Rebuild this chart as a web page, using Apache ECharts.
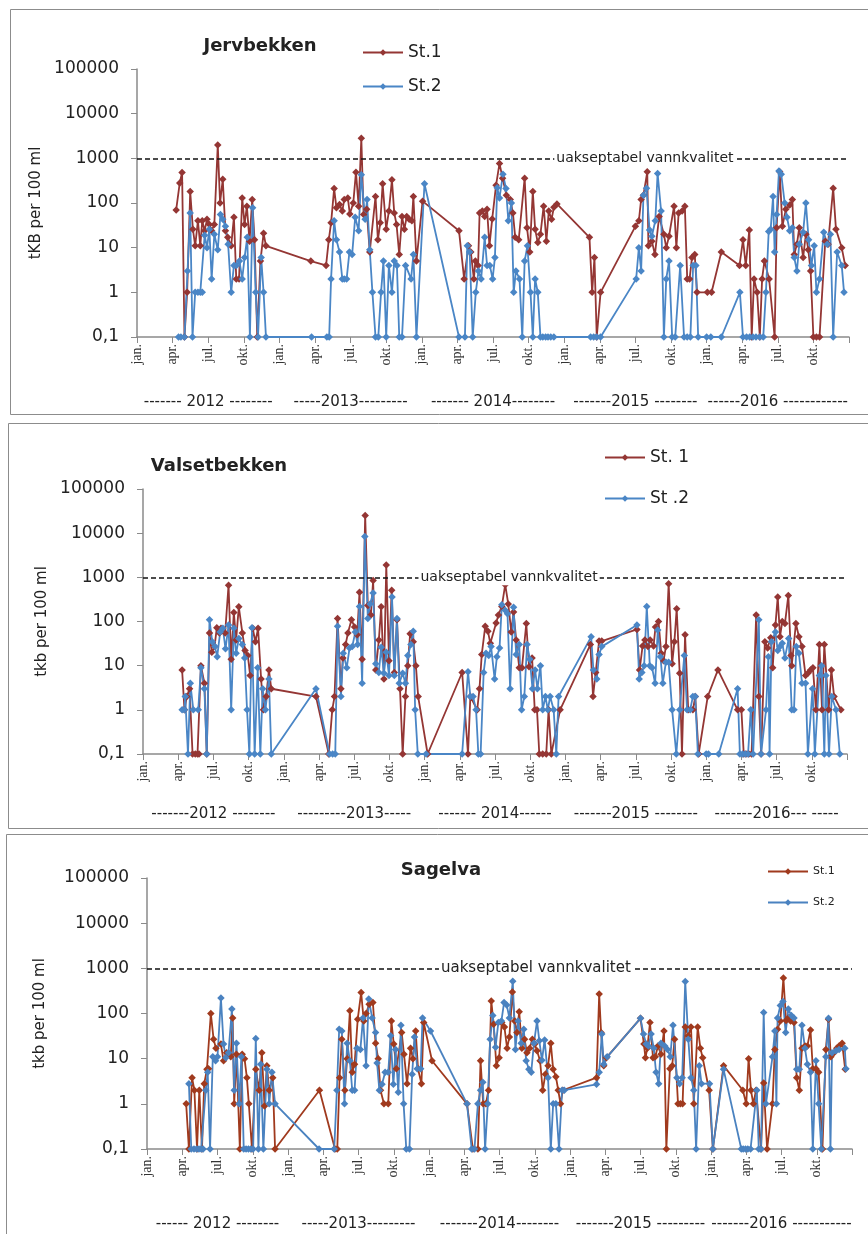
<!DOCTYPE html>
<html>
<head>
<meta charset="utf-8">
<script src="https://cdn.jsdelivr.net/npm/echarts@6/dist/echarts.min.js"></script>
<style>
  html, body { margin: 0; padding: 0; background: #fff; }
  #chart { width: 868px; height: 1234px; }
</style>
</head>
<body>
<div id="chart"></div>
<script>
// quarter tick labels and year labels under each panel
const monthLabels = ['jan.', 'apr.', 'jul.', 'okt.'];
const jervYears = ['------- 2012 --------', '-----2013---------', '------- 2014--------', '-------2015 --------', '------2016 ------------'];
const valsYears = ['-------2012 --------', '---------2013-----', '------- 2014------', '-------2015 --------', '-------2016--- -----'];
const sageYears = ['------ 2012 --------', '-----2013---------', '-------2014--------', '-------2015 ---------', '-------2016 -----------'];

// Jervbekken
const jervSt1 = [
  ['2012-04-10',70],['2012-04-19',280],['2012-04-25',480],['2012-05-01',0.1],['2012-05-08',1],['2012-05-16',180],['2012-05-23',26],['2012-05-29',11],['2012-06-05',40],['2012-06-11',11],['2012-06-16',40],['2012-06-22',24],['2012-06-28',43],['2012-07-04',33],['2012-07-10',24],['2012-07-17',33],['2012-07-26',2000],['2012-08-01',100],['2012-08-08',340],['2012-08-15',24],['2012-08-21',17],['2012-08-30',11],['2012-09-06',48],['2012-09-12',2],['2012-09-19',2],['2012-09-27',130],['2012-10-03',33],['2012-10-09',85],['2012-10-16',14],['2012-10-23',120],['2012-10-29',15],['2012-11-05',0.1],['2012-11-13',5],['2012-11-21',21],['2012-11-27',11],
  ['2013-03-21',5],['2013-04-29',4],['2013-05-06',15],['2013-05-12',36],['2013-05-20',210],['2013-05-26',78],['2013-06-03',93],['2013-06-10',66],['2013-06-15',120],['2013-06-24',130],['2013-06-29',57],['2013-07-08',100],['2013-07-15',490],['2013-07-22',85],['2013-07-29',2800],['2013-08-04',55],['2013-08-12',72],['2013-08-20',8],['2013-09-04',140],['2013-09-10',15],['2013-09-16',36],['2013-09-22',270],['2013-10-01',26],['2013-10-08',66],['2013-10-16',330],['2013-10-22',60],['2013-10-28',33],['2013-11-04',7],['2013-11-11',50],['2013-11-17',26],['2013-11-23',50],['2013-11-29',43],['2013-12-06',40],['2013-12-10',140],['2013-12-18',5],
  ['2014-01-03',110],['2014-04-05',24],['2014-04-18',2],['2014-04-29',11],['2014-05-05',8],['2014-05-13',2],['2014-05-17',5],['2014-05-24',4],['2014-05-28',60],['2014-06-04',66],['2014-06-10',50],['2014-06-16',72],['2014-06-22',11],['2014-06-29',44],['2014-07-09',250],['2014-07-18',770],['2014-07-26',360],['2014-08-05',150],['2014-08-15',120],['2014-08-22',60],['2014-08-28',17],['2014-09-06',15],['2014-09-21',360],['2014-09-27',28],['2014-10-04',8],['2014-10-12',180],['2014-10-18',26],['2014-10-25',13],['2014-11-01',20],['2014-11-09',85],['2014-11-16',14],['2014-11-22',66],['2014-11-29',43],['2014-12-05',80],['2014-12-13',95],
  ['2015-03-05',17],['2015-03-12',1],['2015-03-18',6],['2015-03-24',0.1],['2015-04-03',1],['2015-07-01',30],['2015-07-10',40],['2015-07-16',120],['2015-07-22',150],['2015-08-01',500],['2015-08-04',11],['2015-08-13',14],['2015-08-21',7],['2015-09-01',50],['2015-09-13',20],['2015-09-19',10],['2015-09-26',18],['2015-10-09',85],['2015-10-15',10],['2015-10-21',60],['2015-10-30',66],['2015-11-06',85],['2015-11-12',2],['2015-11-18',2],['2015-11-24',6],['2015-12-01',7],['2015-12-07',1],
  ['2016-01-03',1],['2016-01-14',1],['2016-02-08',8],['2016-03-25',4],['2016-04-03',15],['2016-04-10',4],['2016-04-19',25],['2016-04-25',0.1],['2016-05-01',2],['2016-05-09',1],['2016-05-16',0.1],['2016-05-22',2],['2016-05-28',5],['2016-06-09',2],['2016-06-23',0.1],['2016-06-28',28],['2016-07-06',500],['2016-07-13',30],['2016-07-22',72],['2016-08-01',90],['2016-08-08',120],['2016-08-13',7],['2016-08-20',12],['2016-08-26',28],['2016-09-05',6],['2016-09-12',20],['2016-09-18',9],['2016-09-24',3],['2016-10-01',0.1],['2016-10-09',0.1],['2016-10-17',0.1],['2016-11-01',14],['2016-11-08',12],['2016-11-21',215],['2016-11-28',26],['2016-12-13',10],['2016-12-22',4]
];
const jervSt2 = [
  ['2012-04-16',0.1],['2012-04-22',0.1],['2012-05-01',0.1],['2012-05-09',3],['2012-05-16',60],['2012-05-22',0.1],['2012-05-29',1],['2012-06-05',1],['2012-06-11',1],['2012-06-16',1],['2012-06-22',19],['2012-06-28',10],['2012-07-04',26],['2012-07-10',2],['2012-07-17',20],['2012-07-26',9],['2012-08-02',55],['2012-08-08',43],['2012-08-15',30],['2012-08-22',12],['2012-08-30',1],['2012-09-06',4],['2012-09-12',4],['2012-09-20',5],['2012-09-27',2],['2012-10-03',6],['2012-10-10',17],['2012-10-17',0.1],['2012-10-24',78],['2012-11-01',1],['2012-11-07',0.1],['2012-11-15',6],['2012-11-21',1],['2012-11-27',0.1],
  ['2013-03-23',0.1],['2013-05-01',0.1],['2013-05-07',0.1],['2013-05-12',2],['2013-05-20',40],['2013-05-26',15],['2013-06-03',8],['2013-06-10',2],['2013-06-15',2],['2013-06-21',2],['2013-06-28',8],['2013-07-05',7],['2013-07-13',48],['2013-07-22',24],['2013-07-29',430],['2013-08-08',43],['2013-08-13',120],['2013-08-20',9],['2013-08-27',1],['2013-09-04',0.1],['2013-09-11',0.1],['2013-09-18',1],['2013-09-24',5],['2013-10-01',0.1],['2013-10-08',4],['2013-10-16',1],['2013-10-22',5],['2013-10-29',4],['2013-11-04',0.1],['2013-11-11',0.1],['2013-11-20',4],['2013-12-04',2],['2013-12-10',7],['2013-12-18',0.1],
  ['2014-01-08',270],['2014-04-05',0.1],['2014-04-20',0.1],['2014-04-26',11],['2014-05-02',8],['2014-05-10',0.1],['2014-05-18',1],['2014-05-25',3],['2014-06-01',2],['2014-06-10',17],['2014-06-16',4],['2014-06-23',4],['2014-06-30',2],['2014-07-06',6],['2014-07-12',220],['2014-07-18',130],['2014-07-27',440],['2014-08-04',210],['2014-08-10',40],['2014-08-18',100],['2014-08-24',1],['2014-08-30',3],['2014-09-08',2],['2014-09-15',0.1],['2014-09-21',5],['2014-09-28',11],['2014-10-06',1],['2014-10-12',0.1],['2014-10-18',2],['2014-10-25',1],['2014-11-01',0.1],['2014-11-07',0.1],['2014-11-14',0.1],['2014-11-20',0.1],['2014-11-27',0.1],['2014-12-05',0.1],
  ['2015-03-08',0.1],['2015-03-16',0.1],['2015-03-24',0.1],['2015-04-03',0.1],['2015-07-03',2],['2015-07-10',10],['2015-07-16',3],['2015-07-22',150],['2015-07-30',215],['2015-08-07',25],['2015-08-13',18],['2015-08-22',40],['2015-08-28',460],['2015-09-06',66],['2015-09-13',0.1],['2015-09-19',2],['2015-09-26',5],['2015-10-04',0.1],['2015-10-12',0.1],['2015-10-25',4],['2015-11-04',0.1],['2015-11-12',0.1],['2015-11-20',0.1],['2015-11-27',4],['2015-12-04',4],['2015-12-10',0.1],
  ['2016-01-01',0.1],['2016-01-12',0.1],['2016-02-08',0.1],['2016-03-26',1],['2016-04-03',0.1],['2016-04-12',0.1],['2016-04-20',0.1],['2016-04-28',0.1],['2016-05-06',0.1],['2016-05-16',0.1],['2016-05-25',0.1],['2016-06-01',1],['2016-06-08',23],['2016-06-13',26],['2016-06-19',140],['2016-06-23',8],['2016-06-28',55],['2016-07-04',520],['2016-07-10',440],['2016-07-19',100],['2016-07-25',48],['2016-08-01',24],['2016-08-08',28],['2016-08-13',6],['2016-08-20',3],['2016-08-26',12],['2016-09-05',22],['2016-09-12',100],['2016-09-19',15],['2016-09-26',4],['2016-10-03',11],['2016-10-09',1],['2016-10-17',2],['2016-10-28',22],['2016-11-06',12],['2016-11-14',20],['2016-11-21',0.1],['2016-12-01',8],['2016-12-13',4],['2016-12-19',1]
];

// Valsetbekken
const valsSt1 = [
  ['2012-04-11',8],['2012-04-17',1],['2012-04-23',2],['2012-04-30',3],['2012-05-08',0.1],['2012-05-15',0.1],['2012-05-21',0.1],['2012-05-25',0.1],['2012-05-30',10],['2012-06-08',4],['2012-06-14',0.1],['2012-06-21',55],['2012-06-27',20],['2012-07-04',27],['2012-07-10',72],['2012-07-17',55],['2012-07-21',70],['2012-08-01',55],['2012-08-10',660],['2012-08-17',14],['2012-08-24',160],['2012-08-30',38],['2012-09-06',215],['2012-09-15',55],['2012-09-22',22],['2012-09-29',17],['2012-10-05',6],['2012-10-12',70],['2012-10-19',35],['2012-10-26',70],['2012-11-03',5],['2012-11-09',1],['2012-11-16',2],['2012-11-23',8],['2012-11-29',3],
  ['2013-03-24',2],['2013-04-26',0.1],['2013-05-05',1],['2013-05-11',2],['2013-05-19',117],['2013-05-28',3],['2013-06-02',15],['2013-06-09',30],['2013-06-15',55],['2013-06-24',110],['2013-07-02',75],['2013-07-09',50],['2013-07-15',460],['2013-07-22',14],['2013-07-30',25000],['2013-08-06',230],['2013-08-14',140],['2013-08-20',850],['2013-08-27',8],['2013-09-04',38],['2013-09-10',215],['2013-09-17',5],['2013-09-23',1900],['2013-09-30',13],['2013-10-07',510],['2013-10-14',7],['2013-10-21',110],['2013-10-29',3],['2013-11-05',0.1],['2013-11-12',2],['2013-11-18',10],['2013-11-24',53],['2013-12-02',35],['2013-12-09',10],['2013-12-15',2],
  ['2014-01-09',0.1],['2014-04-07',7],['2014-04-22',0.1],['2014-04-28',2],['2014-05-16',1],['2014-05-22',3],['2014-05-28',18],['2014-06-06',78],['2014-06-13',60],['2014-06-19',32],['2014-07-04',93],['2014-07-10',140],['2014-07-19',220],['2014-07-28',680],['2014-08-05',250],['2014-08-13',58],['2014-08-19',165],['2014-08-26',38],['2014-09-03',9],['2014-09-10',9],['2014-09-21',90],['2014-09-28',9.5],['2014-10-06',15],['2014-10-13',1],['2014-10-19',1],['2014-10-25',0.1],['2014-11-03',0.1],['2014-11-12',0.1],['2014-11-18',1],['2014-11-25',0.1],['2014-12-18',1],
  ['2015-03-05',30],['2015-03-12',2],['2015-03-19',7],['2015-03-28',36],['2015-04-04',36],['2015-07-04',66],['2015-07-11',8],['2015-07-19',28],['2015-07-25',38],['2015-08-02',27],['2015-08-08',38],['2015-08-17',28],['2015-08-22',75],['2015-08-30',100],['2015-09-06',19],['2015-09-12',13],['2015-09-18',27],['2015-09-25',720],['2015-10-04',11],['2015-10-10',35],['2015-10-16',195],['2015-10-24',6.7],['2015-10-30',0.1],['2015-11-07',50],['2015-11-15',1],['2015-11-27',1],['2015-12-03',2],['2015-12-12',0.1],
  ['2016-01-05',2],['2016-02-01',8],['2016-03-22',1],['2016-04-01',1],['2016-04-07',0.1],['2016-04-13',0.1],['2016-04-20',0.1],['2016-04-27',0.1],['2016-05-09',140],['2016-05-16',2],['2016-05-22',0.1],['2016-06-01',35],['2016-06-08',25],['2016-06-16',43],['2016-06-21',9],['2016-06-28',83],['2016-07-04',360],['2016-07-10',45],['2016-07-16',100],['2016-07-23',90],['2016-08-01',390],['2016-08-08',17],['2016-08-10',10],['2016-08-21',90],['2016-08-29',45],['2016-09-06',27],['2016-09-15',6],['2016-09-21',6.7],['2016-09-28',8],['2016-10-04',9],['2016-10-12',1],['2016-10-21',30],['2016-10-28',1],['2016-11-03',30],['2016-11-14',1],['2016-11-21',8],['2016-11-28',2],['2016-12-16',1]
];
const valsSt2 = [
  ['2012-04-11',1],['2012-04-17',1],['2012-04-19',2],['2012-04-26',0.1],['2012-05-02',4],['2012-05-10',1],['2012-05-23',1],['2012-05-30',9],['2012-06-08',3],['2012-06-14',0.1],['2012-06-21',110],['2012-06-28',35],['2012-07-05',27],['2012-07-11',16],['2012-07-19',58],['2012-07-26',70],['2012-08-02',24],['2012-08-10',83],['2012-08-17',1],['2012-08-24',70],['2012-08-30',19],['2012-09-06',41],['2012-09-15',30],['2012-09-21',15],['2012-09-27',1],['2012-10-03',0.1],['2012-10-10',72],['2012-10-17',0.1],['2012-10-25',9],['2012-11-01',0.1],['2012-11-07',3],['2012-11-14',1],['2012-11-23',5],['2012-11-29',0.1],
  ['2013-03-24',3],['2013-04-28',0.1],['2013-05-06',0.1],['2013-05-13',0.1],['2013-05-19',78],['2013-05-28',2],['2013-06-03',19],['2013-06-12',9],['2013-06-19',25],['2013-06-26',27],['2013-07-04',58],['2013-07-10',30],['2013-07-15',220],['2013-07-22',4],['2013-07-29',8400],['2013-08-06',117],['2013-08-12',250],['2013-08-20',440],['2013-08-27',11],['2013-09-04',7],['2013-09-10',26],['2013-09-17',6.7],['2013-09-23',20],['2013-09-30',6],['2013-10-08',360],['2013-10-14',6],['2013-10-21',117],['2013-10-27',4],['2013-11-05',6.7],['2013-11-12',4],['2013-11-18',17],['2013-11-26',30],['2013-12-02',60],['2013-12-07',1],['2013-12-14',0.1],
  ['2014-01-05',0.1],['2014-04-07',0.1],['2014-04-22',7.3],['2014-04-28',2],['2014-05-05',2],['2014-05-13',1],['2014-05-19',0.1],['2014-05-25',0.1],['2014-06-02',7],['2014-06-08',19],['2014-06-15',17],['2014-06-21',27],['2014-06-30',5],['2014-07-06',16],['2014-07-13',25],['2014-07-19',240],['2014-07-28',180],['2014-08-03',150],['2014-08-10',3],['2014-08-19',210],['2014-08-26',18],['2014-09-03',30],['2014-09-09',1],['2014-09-16',2],['2014-09-23',30],['2014-09-30',14],['2014-10-07',3],['2014-10-14',8],['2014-10-20',3],['2014-10-28',10],['2014-11-03',1],['2014-11-10',2],['2014-11-16',1],['2014-11-22',2],['2014-12-01',1],['2014-12-08',0.1],['2014-12-14',2],
  ['2015-03-07',45],['2015-03-13',8],['2015-03-22',5],['2015-03-28',18],['2015-04-04',27],['2015-07-04',83],['2015-07-10',5],['2015-07-17',7],['2015-07-23',10],['2015-07-30',220],['2015-08-07',10],['2015-08-13',9],['2015-08-21',4],['2015-08-28',64],['2015-09-04',16],['2015-09-10',4],['2015-09-18',12],['2015-09-25',12],['2015-10-04',1],['2015-10-15',0.1],['2015-10-24',1],['2015-11-05',17],['2015-11-12',1],['2015-11-20',1],['2015-11-27',2],['2015-12-03',2],['2015-12-10',0.1],
  ['2016-01-01',0.1],['2016-01-07',0.1],['2016-02-03',0.1],['2016-03-22',3],['2016-03-28',0.1],['2016-04-04',0.1],['2016-04-11',0.1],['2016-04-18',0.1],['2016-04-25',1],['2016-05-01',0.1],['2016-05-16',110],['2016-05-22',0.1],['2016-06-04',1],['2016-06-10',16],['2016-06-13',0.1],['2016-06-18',35],['2016-06-28',58],['2016-07-04',22],['2016-07-10',27],['2016-07-16',32],['2016-07-23',15],['2016-08-02',41],['2016-08-10',1],['2016-08-16',1],['2016-08-22',27],['2016-08-29',19],['2016-09-06',4],['2016-09-15',4],['2016-09-21',0.1],['2016-10-03',3],['2016-10-09',0.1],['2016-10-21',6],['2016-10-27',10],['2016-11-03',0.1],['2016-11-07',6],['2016-11-15',0.1],['2016-11-22',2],['2016-12-03',1],['2016-12-13',0.1]
];

// Sagelva
const sageSt1 = [
  ['2012-04-11',1],['2012-04-18',0.1],['2012-04-26',3.8],['2012-05-02',2],['2012-05-09',0.1],['2012-05-15',2],['2012-05-22',0.1],['2012-05-28',2.8],['2012-06-04',5.8],['2012-06-08',6],['2012-06-14',100],['2012-06-21',27],['2012-06-27',17],['2012-07-10',21],['2012-07-17',9],['2012-07-25',13.5],['2012-08-01',12.5],['2012-08-05',11],['2012-08-10',80],['2012-08-14',1],['2012-08-20',12.5],['2012-08-29',0.1],['2012-09-04',12.5],['2012-09-10',10],['2012-09-16',3.8],['2012-09-21',1],['2012-09-29',0.1],['2012-10-09',5.8],['2012-10-18',2],['2012-10-25',13.5],['2012-11-01',0.9],['2012-11-07',7],['2012-11-13',2],['2012-11-22',3.8],['2012-11-28',0.1],
  ['2013-03-22',2],['2013-05-01',0.1],['2013-05-07',0.1],['2013-05-13',3.8],['2013-05-19',27],['2013-05-27',2],['2013-06-02',10],['2013-06-09',115],['2013-06-15',5],['2013-06-21',7.5],['2013-06-29',75],['2013-07-08',290],['2013-07-15',68],['2013-07-21',100],['2013-07-29',160],['2013-08-08',175],['2013-08-15',22],['2013-08-22',10],['2013-08-28',2],['2013-09-06',1],['2013-09-17',1],['2013-09-25',68],['2013-10-01',21],['2013-10-08',6],['2013-10-22',38],['2013-10-28',12.5],['2013-11-05',2.8],['2013-11-14',17],['2013-11-20',10],['2013-11-27',41],['2013-12-03',6],['2013-12-12',2.8],['2013-12-18',63],
  ['2014-01-09',9],['2014-04-08',1],['2014-04-23',0.1],['2014-05-06',0.1],['2014-05-13',9],['2014-05-20',1],['2014-05-27',1],['2014-06-03',2],['2014-06-10',190],['2014-06-16',58],['2014-06-23',7],['2014-06-30',10.5],['2014-07-07',63],['2014-07-14',50],['2014-07-21',17],['2014-07-27',30],['2014-08-04',300],['2014-08-10',68],['2014-08-16',38],['2014-08-22',110],['2014-08-29',17],['2014-09-05',27],['2014-09-11',13.5],['2014-09-18',17],['2014-09-25',27],['2014-10-01',21],['2014-10-07',15],['2014-10-15',9],['2014-10-22',2],['2014-10-29',4.5],['2014-11-05',7],['2014-11-12',22],['2014-11-18',5.8],['2014-11-25',4],['2014-12-01',2],['2014-12-07',1],['2014-12-13',2],
  ['2015-03-09',3.8],['2015-03-16',270],['2015-03-21',38],['2015-03-28',7],['2015-04-04',10.5],['2015-07-01',78],['2015-07-10',21],['2015-07-14',10.5],['2015-07-19',17],['2015-07-26',63],['2015-08-03',10.5],['2015-08-09',11],['2015-08-16',19],['2015-08-24',12.5],['2015-09-01',41],['2015-09-07',0.1],['2015-09-16',6],['2015-09-22',7],['2015-09-28',27],['2015-10-07',1],['2015-10-13',1],['2015-10-19',1],['2015-10-26',50],['2015-11-03',32],['2015-11-10',50],['2015-11-17',1],['2015-11-27',50],['2015-12-04',17],['2015-12-10',10.5],['2015-12-27',2],
  ['2016-01-06',0.1],['2016-02-03',7],['2016-03-23',2],['2016-04-01',1],['2016-04-07',10],['2016-04-13',2],['2016-04-19',1],['2016-04-26',2],['2016-05-09',0.1],['2016-05-16',2.9],['2016-05-25',0.1],['2016-06-08',1],['2016-06-14',16],['2016-06-21',45],['2016-06-28',68],['2016-07-06',610],['2016-07-13',70],['2016-07-19',80],['2016-07-25',68],['2016-08-03',63],['2016-08-10',3.8],['2016-08-17',2],['2016-08-24',17],['2016-09-01',19],['2016-09-07',19],['2016-09-15',43],['2016-09-21',6],['2016-09-29',6],['2016-10-06',5],['2016-10-16',0.1],['2016-10-25',16],['2016-11-01',75],['2016-11-07',11],['2016-11-15',13.5],['2016-11-22',17],['2016-11-28',19],['2016-12-06',22],['2016-12-14',5.8]
];
const sageSt2 = [
  ['2012-04-18',2.8],['2012-04-24',0.1],['2012-05-01',0.1],['2012-05-08',0.1],['2012-05-14',0.1],['2012-05-20',0.1],['2012-05-25',0.1],['2012-06-01',2],['2012-06-06',5],['2012-06-12',0.1],['2012-06-19',11],['2012-06-26',9],['2012-07-01',11],['2012-07-10',220],['2012-07-17',21],['2012-07-23',10.5],['2012-07-30',13.5],['2012-08-08',125],['2012-08-14',2],['2012-08-20',22],['2012-08-27',1],['2012-09-02',11],['2012-09-08',0.1],['2012-09-14',0.1],['2012-09-20',0.1],['2012-09-26',0.1],['2012-10-02',0.1],['2012-10-09',28],['2012-10-16',0.1],['2012-10-22',7.5],['2012-10-29',0.1],['2012-11-07',5.8],['2012-11-13',1],['2012-11-20',5],['2012-11-28',1],
  ['2013-03-21',0.1],['2013-04-29',0.1],['2013-05-06',2],['2013-05-12',45],['2013-05-19',41],['2013-05-26',1],['2013-06-02',22],['2013-06-09',9],['2013-06-15',2],['2013-06-21',2],['2013-06-27',17],['2013-07-06',16],['2013-07-13',80],['2013-07-21',7],['2013-07-28',210],['2013-08-06',80],['2013-08-15',38],['2013-08-19',8],['2013-08-25',2],['2013-09-01',2.7],['2013-09-09',5],['2013-09-17',5],['2013-09-23',32],['2013-09-30',2.7],['2013-10-06',16],['2013-10-13',1.8],['2013-10-20',55],['2013-10-27',1],['2013-11-03',0.1],['2013-11-11',0.1],['2013-11-18',4.5],['2013-11-24',30],['2013-12-01',6],['2013-12-10',6],['2013-12-15',80],
  ['2014-01-05',41],['2014-04-08',1],['2014-04-20',0.1],['2014-04-27',0.1],['2014-05-06',1],['2014-05-13',2],['2014-05-19',3],['2014-05-25',0.1],['2014-06-01',1],['2014-06-07',27],['2014-06-14',90],['2014-06-21',18],['2014-06-28',63],['2014-07-06',68],['2014-07-13',175],['2014-07-20',155],['2014-07-27',80],['2014-08-05',520],['2014-08-12',16],['2014-08-19',68],['2014-08-27',22],['2014-09-03',45],['2014-09-09',9],['2014-09-16',5.8],['2014-09-22',5],['2014-09-29',22],['2014-10-07',68],['2014-10-13',25],['2014-10-20',9.2],['2014-10-27',26],['2014-11-05',3.8],['2014-11-12',0.1],['2014-11-18',1],['2014-11-25',1],['2014-12-03',0.1],['2014-12-11',2],['2014-12-17',2],
  ['2015-03-09',2.7],['2015-03-16',5],['2015-03-23',35],['2015-03-28',7.5],['2015-04-06',11],['2015-07-01',78],['2015-07-09',35],['2015-07-16',21],['2015-07-22',19],['2015-07-29',35],['2015-08-05',17],['2015-08-11',5],['2015-08-18',2.8],['2015-08-24',22],['2015-09-03',19],['2015-09-10',16],['2015-09-17',11],['2015-09-24',55],['2015-10-04',3.8],['2015-10-11',2.8],['2015-10-18',3.8],['2015-10-26',510],['2015-11-03',27],['2015-11-10',3.8],['2015-11-17',2],['2015-11-23',0.1],['2015-12-01',7],['2015-12-07',2.8],['2015-12-28',2.8],
  ['2016-01-06',0.1],['2016-02-03',5.8],['2016-03-19',0.1],['2016-03-24',0.1],['2016-03-30',0.1],['2016-04-05',0.1],['2016-04-12',0.1],['2016-04-28',2],['2016-05-03',0.1],['2016-05-09',0.1],['2016-05-16',105],['2016-05-22',1],['2016-06-08',11],['2016-06-14',41],['2016-06-18',1],['2016-06-21',80],['2016-06-28',150],['2016-07-05',185],['2016-07-12',38],['2016-07-19',125],['2016-07-27',90],['2016-08-03',80],['2016-08-10',5.8],['2016-08-17',5.8],['2016-08-24',55],['2016-09-01',17],['2016-09-07',7.5],['2016-09-15',5],['2016-09-21',0.1],['2016-09-29',9],['2016-10-06',1],['2016-10-13',0.1],['2016-10-25',11],['2016-11-01',78],['2016-11-06',0.1],['2016-11-10',13.5],['2016-11-20',15],['2016-11-28',16],['2016-12-13',17],['2016-12-16',6]
];

const limit = 1000;
const limitText = 'uakseptabel vannkvalitet';

// months since jan 2012
function toMonth(s) {
  const p = s.split('-').map(Number);
  const dim = new Date(p[0], p[1], 0).getDate();
  return (p[0] - 2012) * 12 + (p[1] - 1) + (p[2] - 1) / dim;
}

const panels = [
  { title: 'Jervbekken', titleX: 255, titleY: 32, yName: 'tKB per 100 ml', names: ['St.1', 'St.2'],
    s1: jervSt1, s2: jervSt2, years: jervYears, red: '#943634', blue: '#4A86C6',
    grid: { left: 137, top: 69, width: 712, height: 268 }, nameGap: 76, labelAt: 42.8, labelSize: 14,
    legend: { left: 357, top: 39, itemGap: 17, fontSize: 17 }, yearOffset: 58, box: [10, 9, 405] },
  { title: 'Valsetbekken', titleX: 214, titleY: 452, yName: 'tkb per 100 ml', names: ['St. 1', 'St .2'],
    s1: valsSt1, s2: valsSt2, years: valsYears, red: '#943634', blue: '#4A86C6',
    grid: { left: 143, top: 489, width: 704, height: 265 }, nameGap: 93, labelAt: 31.2, labelSize: 14,
    legend: { left: 599, top: 444, itemGap: 24, fontSize: 17 }, yearOffset: 53, box: [8, 423, 405] },
  { title: 'Sagelva', titleX: 436, titleY: 856, yName: 'tkb per 100 ml', names: ['Sagelva St.1', 'Sagelva St.2'],
    s1: sageSt1, s2: sageSt2, years: sageYears, red: '#A03A1E', blue: '#4A82C0',
    grid: { left: 147, top: 878, width: 705, height: 271 }, nameGap: 99, labelAt: 33.1, labelSize: 15,
    legend: { left: 762, top: 861, itemGap: 20, fontSize: 11 }, yearOffset: 68, box: [6, 834, 430] }
];

const option = {
  animation: false,
  backgroundColor: '#fff',
  title: [], legend: [], grid: [], xAxis: [], yAxis: [], series: [], graphic: []
};

panels.forEach((p, i) => {
  option.graphic.push({
    type: 'rect', silent: true, z: -10,
    shape: { x: p.box[0] + 0.5, y: p.box[1] + 0.5, width: 900, height: p.box[2] },
    style: { fill: '#fff', stroke: '#8c8c8c', lineWidth: 1 }
  });
  option.title.push({
    text: p.title, left: p.titleX, top: p.titleY, textAlign: 'center',
    textStyle: { fontFamily: 'DejaVu Sans', fontWeight: 'bold', fontSize: 18, color: '#222' }
  });
  option.legend.push({
    data: p.names, orient: 'vertical', left: p.legend.left, top: p.legend.top,
    itemWidth: 40, itemHeight: 8, itemGap: p.legend.itemGap,
    formatter: (n) => n.replace('Sagelva ', ''),
    textStyle: { fontFamily: 'DejaVu Sans', fontSize: p.legend.fontSize, color: '#222' }
  });
  option.grid.push(Object.assign({ containLabel: false }, p.grid));
  // month axis
  option.xAxis.push({
    type: 'value', gridIndex: i, min: 0, max: 60, interval: 3,
    axisLine: { lineStyle: { color: '#8a8a8a', width: 1.5 } },
    axisTick: { show: true, length: 6, lineStyle: { color: '#8a8a8a' } },
    splitLine: { show: false },
    axisLabel: {
      rotate: 90, margin: 7, fontFamily: 'Liberation Serif', fontSize: 14, color: '#333',
      formatter: (v) => v >= 60 ? '' : monthLabels[Math.round(v / 3) % 4]
    }
  });
  // year axis
  option.xAxis.push({
    type: 'value', gridIndex: i, min: 0, max: 60, interval: 6, position: 'bottom', offset: p.yearOffset,
    axisLine: { show: false }, axisTick: { show: false }, splitLine: { show: false },
    axisLabel: {
      margin: 0, fontFamily: 'DejaVu Sans', fontSize: 15, color: '#222', hideOverlap: false,
      formatter: (v) => (Math.round(v / 6) % 2 === 1) ? p.years[(Math.round(v) - 6) / 12] : ''
    }
  });
  option.yAxis.push({
    type: 'log', logBase: 10, gridIndex: i, min: 0.1, max: 100000, splitNumber: 6,
    name: p.yName, nameLocation: 'middle', nameGap: p.nameGap,
    nameTextStyle: { fontFamily: 'DejaVu Sans', fontSize: 15, color: '#222' },
    axisLine: { show: true, lineStyle: { color: '#8a8a8a', width: 1.5 } },
    axisTick: { show: true, length: 6, lineStyle: { color: '#8a8a8a' } },
    splitLine: { show: false },
    axisLabel: {
      margin: 18, fontFamily: 'DejaVu Sans', fontSize: 17, color: '#222',
      formatter: (v) => v < 1 ? '0,1' : String(Math.round(v))
    }
  });
  const mk = (name, data, color, extra) => Object.assign({
    name: name, type: 'line', xAxisIndex: i * 2, yAxisIndex: i,
    data: data.map(d => [toMonth(d[0]), d[1]]),
    symbol: 'diamond', symbolSize: 7.5,
    itemStyle: { color: color }, lineStyle: { color: color, width: 1.8 }
  }, extra || {});
  option.series.push(mk(p.names[0], p.s1, p.red, {
    markLine: {
      silent: true, symbol: ['none', 'none'],
      lineStyle: { type: [5, 3], color: '#111', width: 1.5 },
      label: { show: false },
      data: [[{ coord: [0, limit] }, { coord: [60, limit] }]]
    },
    markPoint: {
      silent: true, symbol: 'rect', symbolSize: 1,
      itemStyle: { color: 'rgba(0,0,0,0)' },
      label: {
        show: true, position: 'inside', formatter: limitText,
        fontFamily: 'DejaVu Sans', fontSize: p.labelSize, color: '#222',
        backgroundColor: '#fff', padding: [1, 2]
      },
      data: [{ coord: [p.labelAt, limit] }]
    }
  }));
  option.series.push(mk(p.names[1], p.s2, p.blue));
});

const chart = echarts.init(document.getElementById('chart'), null, { renderer: 'canvas' });
chart.setOption(option);
</script>
</body>
</html>
